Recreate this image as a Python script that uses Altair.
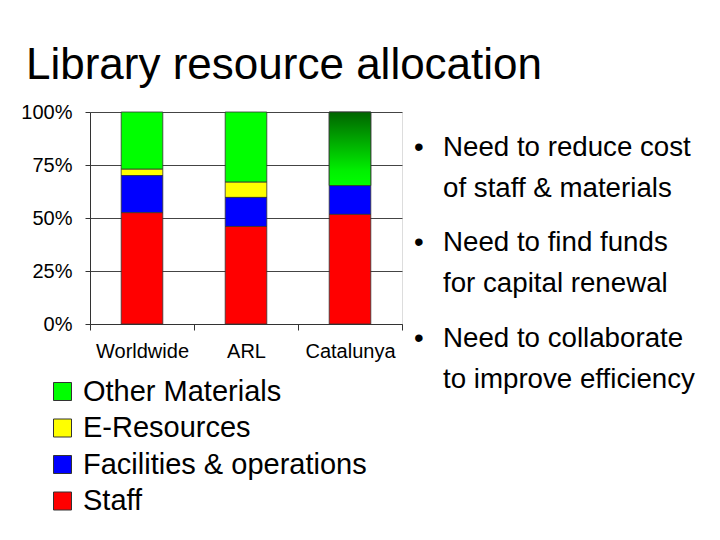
import altair as alt
import pandas as pd

categories = ["Worldwide", "ARL", "Catalunya"]
series = ["Other Materials", "E-Resources", "Facilities & operations", "Staff"]
colors = ["#00ff00", "#ffff00", "#0000ff", "#ff0000"]
staff = [52.5, 46.0, 51.7]
facilities = [17.5, 13.7, 13.6]
eresources = [3.0, 7.2, 0.0]
other = [27.0, 33.1, 34.7]
y_ticks = [0, 0.25, 0.5, 0.75, 1.0]

title_text = ["Library resource allocation"]
bullets = [
    "Need to reduce cost\nof staff & materials",
    "Need to find funds\nfor capital renewal",
    "Need to collaborate\nto improve efficiency",
]

FONT = "Liberation Sans"

rows = []
vals = {"Staff": staff, "Facilities & operations": facilities,
        "E-Resources": eresources, "Other Materials": other}
stack_rank = {"Staff": 0, "Facilities & operations": 1, "E-Resources": 2, "Other Materials": 3}
for i, c in enumerate(categories):
    for s in series:
        rows.append({"cat": c, "series": s, "value": vals[s][i], "rank": stack_rank[s]})
df = pd.DataFrame(rows)

x_enc = alt.X("cat:N", sort=categories, title=None,
              scale=alt.Scale(paddingInner=0, paddingOuter=0),
              axis=alt.Axis(labelAngle=0, labelFontSize=20, labelFont=FONT, labelColor="#000",
                            domainColor="#333", tickColor="#333", tickSize=6, tickBand="extent",
                            labelPadding=11, grid=False))
y_scale = alt.Scale(domain=[0, 1])
y_axis = alt.Axis(values=y_ticks, format=".0%", labelFontSize=20, labelFont=FONT, labelColor="#000",
                  domainColor="#333", tickColor="#333", tickSize=5, labelPadding=13,
                  grid=True, gridColor="#444", gridWidth=1, title=None)

bars = alt.Chart(df).mark_bar(width=alt.RelativeBandSize(0.4), stroke="#333", strokeWidth=0.8).encode(
    x=x_enc,
    y=alt.Y("value:Q", stack="normalize", scale=y_scale, axis=y_axis),
    color=alt.Color("series:N", scale=alt.Scale(domain=series, range=colors),
                    legend=alt.Legend(orient="none", legendX=-42, legendY=265, title=None,
                                      symbolType="square", symbolSize=324, symbolStrokeColor="#333",
                                      symbolStrokeWidth=1, labelFontSize=29, labelFont=FONT,
                                      labelColor="#000", labelOffset=6, rowPadding=6.5,
                                      labelLimit=400)),
    order=alt.Order("rank:Q", sort="ascending"),
)

grad = alt.LinearGradient(
    gradient="linear",
    stops=[alt.GradientStop(color="#006400", offset=0),
           alt.GradientStop(color="#00f000", offset=0.8),
           alt.GradientStop(color="#00ff00", offset=1)],
    x1=0, x2=0, y1=0, y2=1,
)
grad_bar = alt.Chart(df).transform_stack(
    stack="value", groupby=["cat"], sort=[alt.SortField("rank", order="ascending")],
    offset="normalize", as_=["y0", "y1"],
).transform_filter(
    (alt.datum.cat == "Catalunya") & (alt.datum.series == "Other Materials")
).mark_bar(width=alt.RelativeBandSize(0.4), color=grad, stroke="#333", strokeWidth=0.8).encode(
    x=alt.X("cat:N", sort=categories),
    y=alt.Y("y1:Q", scale=y_scale),
    y2="y0:Q",
)

title = alt.Chart(pd.DataFrame({"t": title_text})).mark_text(
    font=FONT, fontSize=44, align="left", baseline="alphabetic", color="#000"
).encode(x=alt.value(-64), y=alt.value(-33), text="t:N")

layers = [bars, grad_bar, title]
bullet_y = [36, 131, 227]
for b, yy in zip(bullets, bullet_y):
    bdf = pd.DataFrame({"t": [b], "dot": ["•"]})
    layers.append(alt.Chart(bdf).mark_text(
        font=FONT, fontSize=27.7, align="left", baseline="middle", color="#000",
        lineBreak="\n", lineHeight=40.5
    ).encode(x=alt.value(353), y=alt.value(yy), text="t:N"))
    layers.append(alt.Chart(bdf).mark_text(
        font=FONT, fontSize=27.7, align="left", baseline="middle", color="#000"
    ).encode(x=alt.value(324), y=alt.value(yy), text="dot:N"))

chart = alt.layer(*layers).properties(
    width=312, height=212,
    autosize=alt.AutoSizeParams(type="none"),
    padding={"left": 82, "top": 104, "right": 310, "bottom": 200},
).configure_view(stroke="#333", strokeWidth=1).configure(background="#ffffff")

chart.save("out.html", embed_options={"renderer": "svg", "actions": False})
